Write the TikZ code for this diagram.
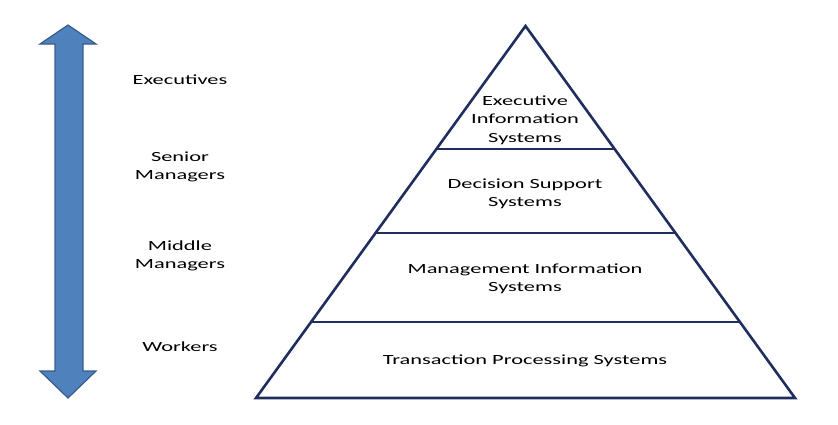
\documentclass[tikz,border=0pt]{standalone}
\usepackage{fontspec}
\setmainfont{Carlito}[FakeStretch=1.6]
\usetikzlibrary{calc}
\definecolor{navy}{HTML}{1F2E5E}
\definecolor{arrowblue}{HTML}{4F81BD}
\definecolor{arrowedge}{HTML}{385D8A}
\tikzset{
  side/.style={draw=navy,line width=2.6pt,line join=miter},
  divider/.style={draw=navy,line width=2pt},
  levelbox/.style={align=center,font=\fontsize{14}{18.5}\selectfont,inner sep=0pt},
  rolebox/.style={align=center,font=\fontsize{14}{18.5}\selectfont,inner sep=0pt}
}

\begin{document}
\begin{tikzpicture}[x=1pt,y=-1pt]
    \useasboundingbox (0,0) rectangle (838,424);
    % double arrow on the left
    \path[fill=arrowblue,draw=arrowedge,line width=1.2pt]
      (68,25)--(96,44)--(83,44)--(83,371)--(96,371)--(68,398)
      --(40,371)--(55,371)--(55,44)--(40,44)--cycle;
    % pyramid
    \coordinate (apex) at (525.5,26);
    \coordinate (bl) at (256,398);
    \coordinate (br) at (795,398);
    \draw[side] (apex)--(bl)--(br)--cycle;
    \draw[divider] ($(apex)!0.331!(bl)$)--($(apex)!0.331!(br)$);
    \draw[divider] ($(apex)!0.556!(bl)$)--($(apex)!0.556!(br)$);
    \draw[divider] ($(apex)!0.796!(bl)$)--($(apex)!0.796!(br)$);
    % system levels
    \node[levelbox] (eis) at (525,120){Executive\\Information\\Systems};
    \node[levelbox] (dss) at (525,194){Decision Support\\Systems};
    \node[levelbox] (mis) at (525,279){Management Information\\Systems};
    \node[levelbox] (tps) at (525,361){Transaction Processing Systems};
    % roles
    \node[rolebox] (exec) at (180,80){Executives};
    \node[rolebox] (senior) at (180,167){Senior\\Managers};
    \node[rolebox] (middle) at (180,256){Middle\\Managers};
    \node[rolebox] (workers) at (180,347){Workers};
\end{tikzpicture}
\end{document}
